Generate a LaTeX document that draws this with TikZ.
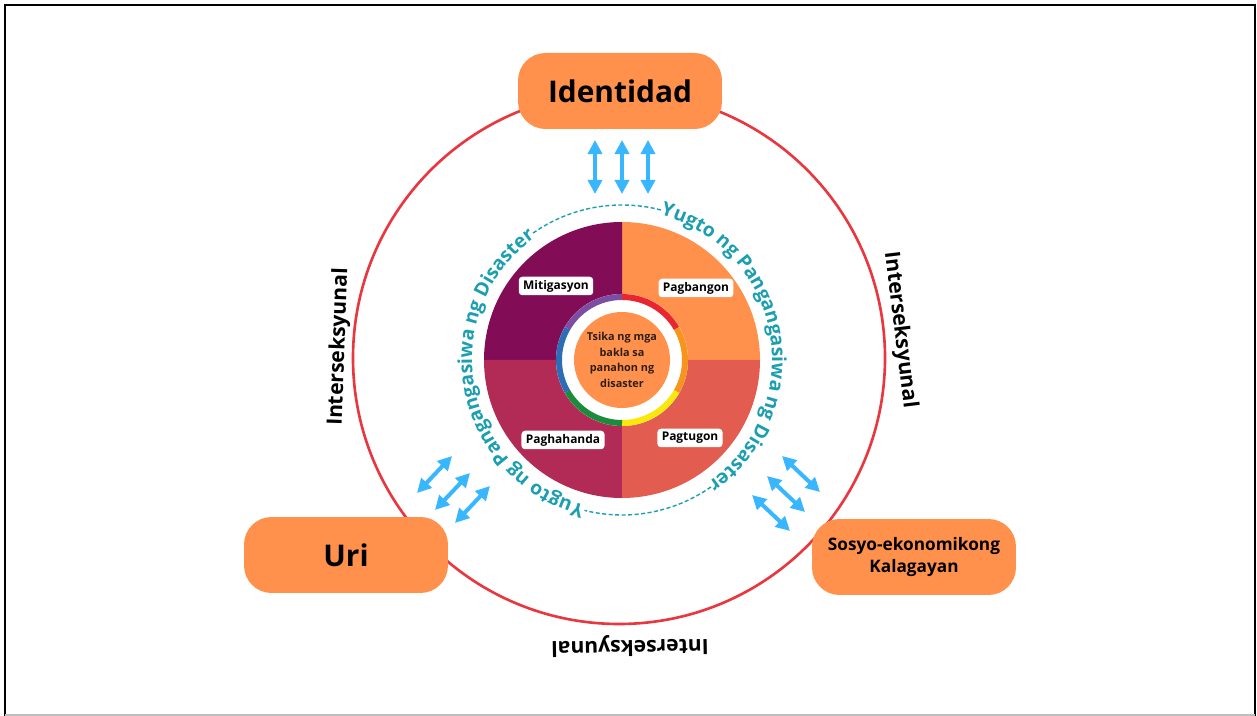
\documentclass[tikz,border=0pt]{standalone}
\usepackage{fontspec}
\setmainfont{Open Sans}
\usetikzlibrary{positioning, arrows.meta, decorations.text}
\definecolor{boxorange}{HTML}{FF914D}
\definecolor{ringred}{HTML}{E8373E}
\definecolor{quadplum}{HTML}{820C55}
\definecolor{quadrose}{HTML}{B22A56}
\definecolor{quadcoral}{HTML}{E25C50}
\definecolor{yugtoteal}{HTML}{1B9FB0}
\definecolor{arrowblue}{HTML}{38B6FF}
\definecolor{storybrown}{HTML}{2E1E14}
\definecolor{bandred}{HTML}{E8262F}
\definecolor{bandorange}{HTML}{F7941D}
\definecolor{bandyellow}{HTML}{FAE80C}
\definecolor{bandgreen}{HTML}{1C8C3C}
\definecolor{bandblue}{HTML}{2D6DB5}
\definecolor{bandpurple}{HTML}{7B4DA3}
\newcommand{\yugtofont}{\fontsize{11}{13}\selectfont\bfseries}

\begin{document}
\begin{tikzpicture}[x=0.02cm, y=0.02cm,
   bigbox/.style={fill=boxorange, rounded corners=0.55cm, minimum width=4.08cm,
     minimum height=1.52cm, align=center, font=\bfseries\fontsize{17}{20}\selectfont},
   phasebox/.style={fill=white, rounded corners=2pt, inner xsep=2.5pt, inner ysep=0pt,
     minimum height=0.37cm, font=\bfseries\fontsize{6.8}{8}\selectfont},
   linkword/.style={font=\bfseries\fontsize{12}{14}\selectfont},
   biarrow/.style={arrowblue, line width=2.3pt,
     {Triangle[width=8pt,length=8pt]}-{Triangle[width=8pt,length=8pt]}}]
\useasboundingbox (0,0) rectangle (1257,716);
% frame
\draw[line width=1.4pt] (5,0) -- (5,711) -- (1255,711) -- (1255,0);
\draw[gray!50, line width=1pt] (5,1) -- (1255,1);

% outer ring and the three factors
\coordinate (hub) at (619,358);
\draw[ringred, line width=1.5pt] (hub) circle[radius=266];
\node[bigbox] (identidad) at (620,625) {Identidad};
\node[bigbox] (uri) at (346,161) {Uri};
\node[bigbox, font=\bfseries\fontsize{9.8}{12.5}\selectfont] (sosyo) at (914,159) {Sosyo-ekonomikong\\Kalagayan};

\node[linkword, rotate=88] (leftlink) at (339,369) {Interseksyunal};
\node[linkword, rotate=-83] (rightlink) at (900,386) {Interseksyunal};
\node[linkword, rotate=181] (bottomlink) at (630,70) {Interseksyunal};

% arrows
\foreach \x [count=\i] in {595,622,648} {
  \coordinate (idtop\i) at (\x,576);
  \coordinate (idbot\i) at (\x,522);
  \draw[biarrow] (idtop\i) -- (idbot\i);
}
\foreach \x/\y [count=\i] in {417/223, 435/206, 455/193} {
  \coordinate (urifar\i) at (\x,\y);
  \coordinate (urinear\i) at (\x+35,\y+37);
  \draw[biarrow] (urifar\i) -- (urinear\i);
}
\foreach \x/\y [count=\i] in {752/221, 767/240, 782/260} {
  \coordinate (sosyonear\i) at (\x,\y);
  \coordinate (sosyofar\i) at (\x+38,\y-36);
  \draw[biarrow] (sosyonear\i) -- (sosyofar\i);
}

% phases disc
\coordinate (core) at (622,356);
\foreach \c [count=\i from 0] in {boxorange,quadplum,quadrose,quadcoral}
  \fill[\c] (core) -- ++(\i*90:138) arc[start angle=\i*90, delta angle=90, radius=138] -- cycle;
\fill[white] (core) circle[radius=66];
\foreach \c [count=\i from 0] in {bandred,bandorange,bandyellow,bandgreen,bandblue,bandpurple}
  \draw[\c, line width=3.4pt] ([shift={(90-\i*60:63)}]core) arc[start angle=90-\i*60, delta angle=-60, radius=63];
\fill[boxorange] (core) circle[radius=48];
\node[text=storybrown, align=center, font=\bfseries\fontsize{6.2}{9}\selectfont] (story) at (core) {Tsika ng mga\\bakla sa\\panahon ng\\disaster};

\node[phasebox] (mitigasyon) at (556,430) {Mitigasyon};
\node[phasebox] (pagbangon) at (696,428) {Pagbangon};
\node[phasebox] (paghahanda) at (563,276) {Paghahanda};
\node[phasebox] (pagtugon) at (690,278) {Pagtugon};

% yugto text around the disc
\path[decorate, decoration={text along path, text align=center, text color=yugtoteal,
   text={|\yugtofont|Yugto ng Pangangasiwa ng Disaster}}]
   ([shift={(75:150)}]core) arc[start angle=75, end angle=-55, radius=150];
\path[decorate, decoration={text along path, text align=center, text color=yugtoteal,
   text={|\yugtofont|Yugto ng Pangangasiwa ng Disaster}}]
   ([shift={(256:150)}]core) arc[start angle=256, end angle=125, radius=150];
\draw[yugtoteal, line width=0.8pt, dash pattern=on 2.3pt off 1.4pt]
   ([shift={(125:155)}]core) arc[start angle=125, end angle=75, radius=155];
\draw[yugtoteal, line width=0.8pt, dash pattern=on 2.3pt off 1.4pt]
   ([shift={(-55:155)}]core) arc[start angle=-55, end angle=-104, radius=155];
\end{tikzpicture}
\end{document}
